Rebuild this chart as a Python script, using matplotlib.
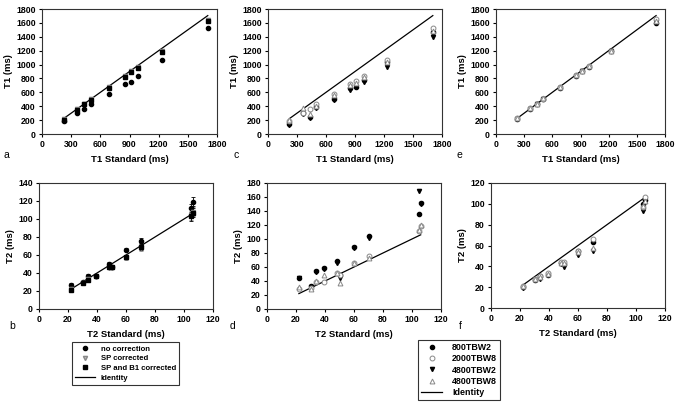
import matplotlib
matplotlib.use("Agg")
import matplotlib.pyplot as plt
from matplotlib.lines import Line2D

plt.rcParams['font.family'] = ['Liberation Sans', 'DejaVu Sans']

# ---------------- data ----------------
t1_std = [222, 365, 437, 500, 685, 850, 915, 990, 1230, 1705]
t2_std = [22, 30, 34, 39, 48, 50, 60, 70, 105, 106]

# panel a (T1, correction methods)
a_nocorr = [190, 305, 365, 430, 575, 725, 750, 840, 1060, 1525]
a_sp = [215, 360, 432, 500, 670, 830, 910, 965, 1190, 1640]
a_spb1 = [205, 350, 425, 495, 660, 820, 895, 955, 1175, 1625]

# panel b (T2, correction methods) with error bars
b_nocorr = [27, 30, 37, 37, 50, 47, 66, 76, 112, 119]
b_sp = [22, 29, 33, 36, 46, 46, 57, 68, 104, 108]
b_spb1 = [21, 29, 32, 37, 47, 47, 58, 69, 103, 107]
b_err = [1.5, 1, 2, 2, 2, 2, 2, 3, 5, 5]

# panel c (T1, sequences, no correction)
c_800 = [140, 300, 250, 390, 510, 660, 680, 780, 1030, 1470]
c_2000 = [190, 300, 360, 430, 580, 720, 760, 840, 1060, 1520]
c_4800w2 = [130, 285, 235, 370, 490, 640, 670, 750, 970, 1400]
c_4800w8 = [200, 370, 290, 410, 560, 700, 740, 820, 1040, 1490]

# panel d (T2, sequences, no correction)
d_800 = [45, 33, 55, 58, 68, 48, 88, 104, 136, 151]
d_2000 = [28, 30, 38, 38, 51, 48, 66, 76, 112, 119]
d_4800w2 = [44, 32, 53, 57, 66, 45, 87, 101, 168, 150]
d_4800w8 = [31, 29, 40, 48, 51, 37, 66, 73, 113, 120]

# panel e (T1, sequences, corrected)
e_800 = [222, 365, 430, 500, 665, 840, 905, 970, 1195, 1600]
e_2000 = [225, 368, 432, 505, 670, 845, 910, 975, 1200, 1650]
e_4800w2 = [220, 362, 428, 498, 662, 838, 902, 968, 1192, 1615]
e_4800w8 = [228, 370, 435, 520, 672, 848, 912, 978, 1202, 1630]

# panel f (T2, sequences, corrected)
f_800 = [20, 27, 31, 32, 43, 42, 55, 63, 100, 104]
f_2000 = [21, 28, 31, 34, 44, 44, 55, 66, 97, 107]
f_4800w2 = [19, 27, 28, 32, 42, 39, 51, 55, 93, 102]
f_4800w8 = [21, 28, 30, 33, 43, 43, 54, 58, 98, 103]

corr_labels = ['no correction', 'SP corrected', 'SP and B1 corrected', 'Identity']
seq_labels = ['800TBW2', '2000TBW8', '4800TBW2', '4800TBW8', 'Identity']

t1_ticks = [0, 300, 600, 900, 1200, 1500, 1800]
t1_yticks = [0, 200, 400, 600, 800, 1000, 1200, 1400, 1600, 1800]

# ---------------- figure ----------------
fig = plt.figure(figsize=(6.82, 4.03), dpi=100)

W, H = 682.0, 403.0
def ax_px(l, r, t, b):
    return fig.add_axes([l / W, 1 - b / H, (r - l) / W, (b - t) / H])

tick_fs = 6.3
lab_fs = 6.8

def style(ax, xlabel, ylabel, xticks, yticks, ylim):
    ax.set_xlim(0, xticks[-1])
    ax.set_ylim(*ylim)
    ax.set_xticks(xticks)
    ax.set_yticks(yticks)
    ax.tick_params(direction='out', length=2.5, width=0.8, labelsize=tick_fs, pad=2)
    for lbl in ax.get_xticklabels() + ax.get_yticklabels():
        lbl.set_fontweight('bold')
    ax.set_xlabel(xlabel, fontsize=lab_fs, fontweight='bold', labelpad=4)
    ax.set_ylabel(ylabel, fontsize=lab_fs, fontweight='bold', labelpad=2)
    for s in ax.spines.values():
        s.set_linewidth(0.8)
        s.set_color('#333333')

ms = 3
gray = '#888888'

def seq_plot(ax, s800, s2000, s4800w2, s4800w8, xs):
    ax.plot(xs, s800, 'o', color='black', ms=ms, zorder=3)
    ax.plot(xs, s2000, 'o', mfc='white', mec=gray, mew=0.7, ms=ms + 0.5, zorder=4)
    ax.plot(xs, s4800w2, 'v', color='black', ms=ms, zorder=3)
    ax.plot(xs, s4800w8, '^', mfc='white', mec=gray, mew=0.7, ms=ms + 0.5, zorder=4)

def identity(ax, xs):
    ax.plot([xs[0], xs[-1]], [xs[0], xs[-1]], color='black', lw=0.9, zorder=2)

# panel a
ax = ax_px(42, 217, 9, 134)
identity(ax, t1_std)
ax.plot(t1_std, a_nocorr, 'o', color='black', ms=ms)
ax.plot(t1_std, a_sp, 'v', mfc='#bbbbbb', mec=gray, ms=ms)
ax.plot(t1_std, a_spb1, 's', color='black', ms=ms - 0.5)
style(ax, 'T1 Standard (ms)', 'T1 (ms)', t1_ticks, t1_yticks, (0, 1800))

# panel c
ax = ax_px(268, 442, 9, 134)
identity(ax, t1_std)
seq_plot(ax, c_800, c_2000, c_4800w2, c_4800w8, t1_std)
style(ax, 'T1 Standard (ms)', 'T1 (ms)', t1_ticks, t1_yticks, (0, 1800))

# panel e
ax = ax_px(496, 665, 9, 134)
identity(ax, t1_std)
seq_plot(ax, e_800, e_2000, e_4800w2, e_4800w8, t1_std)
style(ax, 'T1 Standard (ms)', 'T1 (ms)', t1_ticks, t1_yticks, (0, 1800))

# panel b
ax = ax_px(39, 213, 183, 309)
identity(ax, t2_std)
ax.errorbar(t2_std, b_nocorr, yerr=b_err, fmt='o', color='black', ms=ms,
            elinewidth=0.6, capsize=1.5, capthick=0.6)
ax.errorbar(t2_std, b_sp, yerr=b_err, fmt='v', mfc='#bbbbbb', mec=gray, ecolor=gray,
            ms=ms, elinewidth=0.6, capsize=1.5, capthick=0.6)
ax.errorbar(t2_std, b_spb1, yerr=b_err, fmt='s', color='black', ms=ms - 0.5,
            elinewidth=0.6, capsize=1.5, capthick=0.6)
style(ax, 'T2 Standard (ms)', 'T2 (ms)', [0, 20, 40, 60, 80, 100, 120],
      [0, 20, 40, 60, 80, 100, 120, 140], (0, 140))

# panel d
ax = ax_px(267, 441, 183, 309)
identity(ax, t2_std)
seq_plot(ax, d_800, d_2000, d_4800w2, d_4800w8, t2_std)
style(ax, 'T2 Standard (ms)', 'T2 (ms)', [0, 20, 40, 60, 80, 100, 120],
      [0, 20, 40, 60, 80, 100, 120, 140, 160, 180], (0, 180))

# panel f
ax = ax_px(491, 665, 183, 308)
identity(ax, t2_std)
seq_plot(ax, f_800, f_2000, f_4800w2, f_4800w8, t2_std)
style(ax, 'T2 Standard (ms)', 'T2 (ms)', [0, 20, 40, 60, 80, 100, 120],
      [0, 20, 40, 60, 80, 100, 120], (0, 120))

# panel letters
for letter, x, y in [('a', 6, 155), ('c', 236, 155), ('e', 459, 155),
                     ('b', 12, 326), ('d', 233, 326), ('f', 460, 326)]:
    fig.text(x / W, 1 - y / H, letter, fontsize=7.5, ha='center', va='center')

# legends
h_corr = [Line2D([], [], ls='none', marker='o', color='black', ms=ms),
          Line2D([], [], ls='none', marker='v', mfc='#bbbbbb', mec=gray, ms=ms),
          Line2D([], [], ls='none', marker='s', color='black', ms=ms - 0.5),
          Line2D([], [], color='black', lw=0.9)]
leg1 = fig.legend(h_corr, corr_labels, loc='upper left',
                  bbox_to_anchor=(72 / W, 1 - 342 / H), frameon=True, fancybox=False,
                  prop={'size': 5.6, 'weight': 'bold'}, handlelength=2.6,
                  handletextpad=0.7, labelspacing=0.3, borderpad=0.4, borderaxespad=0)
leg1.get_frame().set_edgecolor('black')
leg1.get_frame().set_linewidth(0.8)

h_seq = [Line2D([], [], ls='none', marker='o', color='black', ms=ms),
         Line2D([], [], ls='none', marker='o', mfc='white', mec=gray, mew=0.7, ms=ms + 0.5),
         Line2D([], [], ls='none', marker='v', color='black', ms=ms),
         Line2D([], [], ls='none', marker='^', mfc='white', mec=gray, mew=0.7, ms=ms + 0.5),
         Line2D([], [], color='black', lw=0.9)]
leg2 = fig.legend(h_seq, seq_labels, loc='upper left',
                  bbox_to_anchor=(418 / W, 1 - 340 / H), frameon=True, fancybox=False,
                  prop={'size': 6.4, 'weight': 'bold'}, handlelength=2.4,
                  handletextpad=1.1, labelspacing=0.25, borderpad=0.35, borderaxespad=0)
leg2.get_frame().set_edgecolor('black')
leg2.get_frame().set_linewidth(0.8)

fig.savefig('out.png', dpi=100)
